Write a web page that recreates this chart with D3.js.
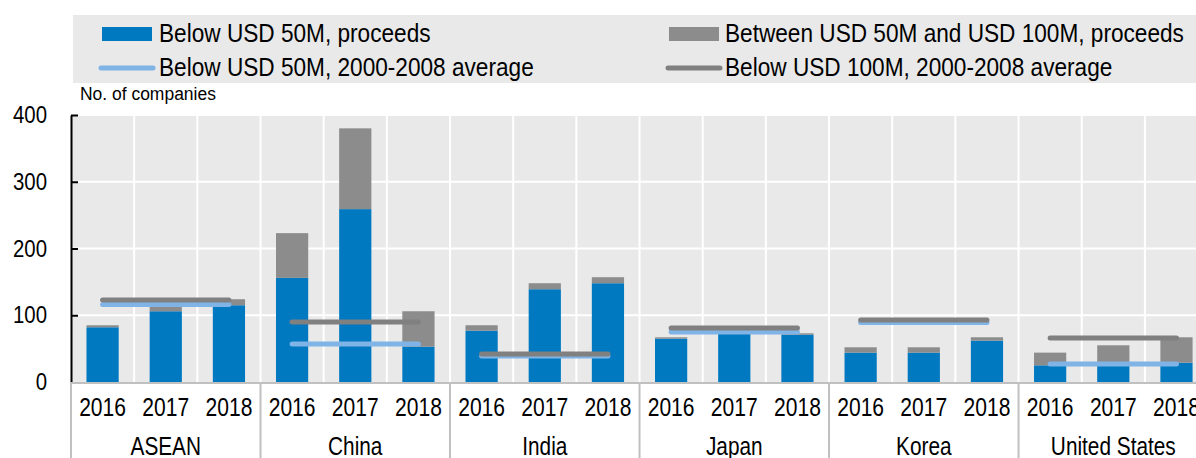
<!DOCTYPE html>
<html>
<head>
<meta charset="utf-8">
<script src="https://cdn.jsdelivr.net/npm/d3@7"></script>
<style>
  html, body { margin: 0; padding: 0; background: #ffffff; }
  svg { display: block; }
  text { font-family: "Liberation Sans", Arial, sans-serif; fill: #000; }
</style>
</head>
<body>
<svg id="chart" width="1196" height="458"></svg>
<script>
// ---- Data ----
const groups = ["ASEAN", "China", "India", "Japan", "Korea", "United States"];
const years = ["2016", "2017", "2018"];
// Below USD 50M, proceeds (per group x year)
const below50 = [82, 106, 115, 156, 259, 53, 77, 139, 148, 65, 72, 71, 44, 44, 62, 25, 24, 29];
// Between USD 50M and USD 100M, proceeds
const between50_100 = [3, 7, 9, 67, 121, 53, 8, 9, 9, 2, 1, 2, 8, 8, 5, 19, 31, 38];
// Below USD 50M, 2000-2008 average (per group)
const avg50 = [116, 57, 39, 75, 89, 27];
// Below USD 100M, 2000-2008 average (per group)
const avg100 = [123, 90, 42, 81, 93, 66];
const yTicks = [0, 100, 200, 300, 400];
const seriesNames = [
  "Below USD 50M, proceeds",
  "Between USD 50M and USD 100M, proceeds",
  "Below USD 50M, 2000-2008 average",
  "Below USD 100M, 2000-2008 average"
];
const yLabel = "No. of companies";

// ---- Styles ----
const C_BLUE = "#0079c1", C_GRAY = "#8c8c8c", C_LBLUE = "#80b3e6", C_DGRAY = "#808080";
const C_BG = "#e9e9e9";

// condense text horizontally (reference uses a narrow typeface)
function squeeze(sel, f) {
  sel.each(function () {
    const w = this.getComputedTextLength();
    d3.select(this).attr("textLength", w * f).attr("lengthAdjust", "spacingAndGlyphs");
  });
}

const svg = d3.select("#chart");
const pLeft = 71, pTop = 115, pBottom = 382;
const catW = 63.17;
const pRight = pLeft + catW * groups.length * years.length;

const cats = [];
groups.forEach(g => years.forEach(yr => cats.push(g + "|" + yr)));

const x = d3.scaleBand().domain(cats).range([pLeft, pRight]).padding(0);
const xg = d3.scaleBand().domain(groups).range([pLeft, pRight]).padding(0);
const y = d3.scaleLinear().domain([0, 400]).range([pBottom, pTop]);

// Legend background
svg.append("rect").attr("x", 73).attr("y", 15).attr("width", 1196 - 73).attr("height", 68).attr("fill", C_BG);

// Plot background
svg.append("rect").attr("x", pLeft).attr("y", pTop).attr("width", pRight - pLeft).attr("height", pBottom - pTop).attr("fill", C_BG);

// Horizontal grid
svg.append("g").selectAll("line").data(yTicks.filter(d => d > 0)).join("line")
  .attr("x1", pLeft).attr("x2", pRight)
  .attr("y1", d => y(d)).attr("y2", d => y(d))
  .attr("stroke", "#fff").attr("stroke-width", 2);

// Vertical grid
svg.append("g").selectAll("line").data(cats.slice(1)).join("line")
  .attr("x1", d => x(d)).attr("x2", d => x(d))
  .attr("y1", pTop).attr("y2", pBottom)
  .attr("stroke", "#fff").attr("stroke-width", 2);

// Bars
const bw = x.bandwidth() * 0.51;
const boff = (x.bandwidth() - bw) / 2;
const barData = cats.map((c, i) => ({ c, a: below50[i], b: between50_100[i] }));
svg.append("g").selectAll("rect").data(barData).join("rect")
  .attr("x", d => x(d.c) + boff).attr("width", bw)
  .attr("y", d => y(d.a)).attr("height", d => y(0) - y(d.a))
  .attr("fill", C_BLUE);
svg.append("g").selectAll("rect").data(barData).join("rect")
  .attr("x", d => x(d.c) + boff).attr("width", bw)
  .attr("y", d => y(d.a + d.b)).attr("height", d => y(d.a) - y(d.a + d.b))
  .attr("fill", C_GRAY);

// Average lines
function avgLines(vals, color) {
  svg.append("g").selectAll("line").data(groups).join("line")
    .attr("x1", (g) => x(g + "|" + years[0]) + x.bandwidth() / 2)
    .attr("x2", (g) => x(g + "|" + years[years.length - 1]) + x.bandwidth() / 2)
    .attr("y1", (g, i) => y(vals[i])).attr("y2", (g, i) => y(vals[i]))
    .attr("stroke", color).attr("stroke-width", 5).attr("stroke-linecap", "round");
}
avgLines(avg50, C_LBLUE);
avgLines(avg100, C_DGRAY);

// Y axis
const yAxis = d3.axisLeft(y).tickValues(yTicks).tickSizeInner(-7).tickSizeOuter(0).tickPadding(24);
const yAx = svg.append("g").attr("transform", `translate(${pLeft},0)`).call(yAxis);
yAx.select(".domain").attr("stroke", "#000").attr("stroke-width", 2);
yAx.selectAll(".tick line").attr("stroke", "#000").attr("stroke-width", 2);
yAx.selectAll(".tick").filter(d => d === 0).select("line").remove();
yAx.attr("font-family", null).attr("font-size", null);
yAx.selectAll("text").attr("font-size", 24).call(squeeze, 0.85);

// X axis baseline
svg.append("line").attr("x1", pLeft).attr("x2", pRight).attr("y1", pBottom + 1).attr("y2", pBottom + 1)
  .attr("stroke", "#c0c0c0").attr("stroke-width", 2);

// Year labels
const xAxis = d3.axisBottom(x).tickSize(0).tickPadding(16).tickFormat(d => d.split("|")[1]);
const xAxYear = svg.append("g").attr("transform", `translate(0,${pBottom})`).call(xAxis);
xAxYear.select(".domain").remove();
xAxYear.attr("font-family", null).attr("font-size", null);
xAxYear.selectAll("text").attr("font-size", 26).call(squeeze, 0.81);

// Group labels
const gAxis = d3.axisBottom(xg).tickSize(0).tickPadding(55);
const xAxGroup = svg.append("g").attr("transform", `translate(0,${pBottom})`).call(gAxis);
xAxGroup.select(".domain").remove();
xAxGroup.attr("font-family", null).attr("font-size", null);
xAxGroup.selectAll("text").attr("font-size", 26).call(squeeze, 0.80);

// Group separators
svg.append("g").selectAll("line").data(groups).join("line")
  .attr("x1", d => xg(d)).attr("x2", d => xg(d))
  .attr("y1", pBottom).attr("y2", 458)
  .attr("stroke", "#c0c0c0").attr("stroke-width", 2);

// Y label
svg.append("text").attr("x", 80).attr("y", 100).attr("font-size", 18).text(yLabel).call(squeeze, 0.97);

// Legend
const legendItems = [
  { name: seriesNames[0], type: "rect", color: C_BLUE, sx: 102, tx: 159, ty: 42 },
  { name: seriesNames[1], type: "rect", color: C_GRAY, sx: 669, tx: 725, ty: 42 },
  { name: seriesNames[2], type: "line", color: C_LBLUE, sx: 101, tx: 159, ty: 76 },
  { name: seriesNames[3], type: "line", color: C_DGRAY, sx: 668, tx: 725, ty: 76 }
];
const lg = svg.append("g").selectAll("g").data(legendItems).join("g");
lg.filter(d => d.type === "rect").append("rect")
  .attr("x", d => d.sx).attr("y", d => d.ty - 15).attr("width", 50).attr("height", 14).attr("fill", d => d.color);
lg.filter(d => d.type === "line").append("line")
  .attr("x1", d => d.sx).attr("x2", d => d.sx + 52)
  .attr("y1", d => d.ty - 8).attr("y2", d => d.ty - 8)
  .attr("stroke", d => d.color).attr("stroke-width", 5).attr("stroke-linecap", "round");
lg.append("text").attr("x", d => d.tx).attr("y", d => d.ty).attr("font-size", 26).text(d => d.name).call(squeeze, 0.87);
</script>
</body>
</html>
